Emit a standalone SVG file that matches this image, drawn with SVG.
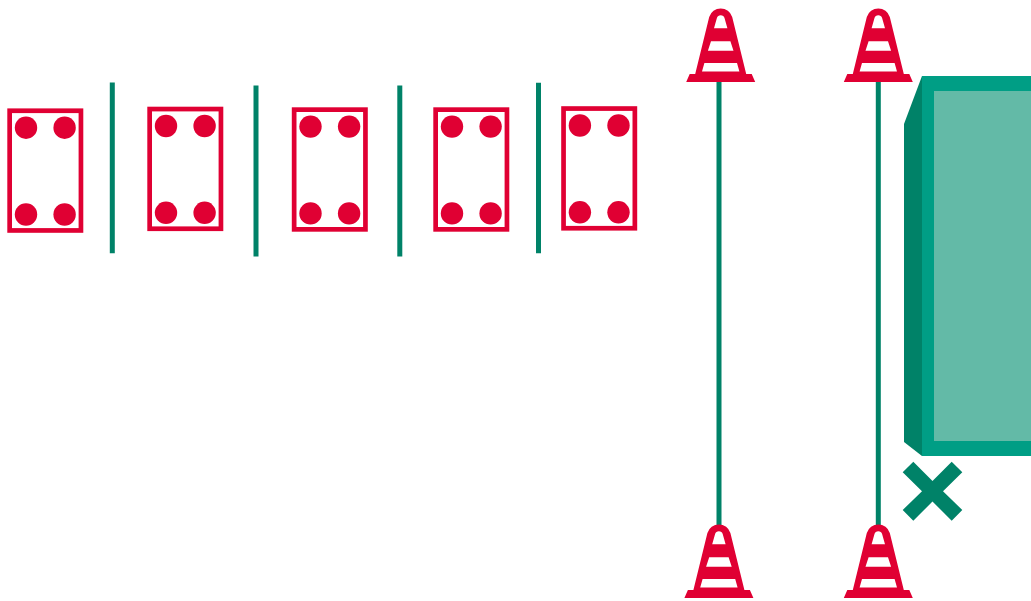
<svg xmlns="http://www.w3.org/2000/svg" width="1031" height="601" viewBox="0 0 1031 601">
<style>
.r{fill:none;stroke:#e00033;stroke-width:4.7}
.d{fill:#e00033}
.p{stroke:#008268;stroke-width:5;fill:none}
</style>
<defs>
<g id="cone">
<path fill="#e00033" fill-rule="evenodd" d="M-34.500 82L-31 74L-25.500 74L-11.500 17A12 12 0 0 1 11.500 17L25.500 74L31 74L34.500 82ZM-6.700 28.300L6.700 28.300L3.800 18A4 4 0 0 0 -3.800 18ZM-9.700 41.300L-12.800 50.700L12.800 50.700L9.700 41.300ZM-16.300 63L-18.700 71.500L18.700 71.500L16.300 63Z"/>
</g>
<g id="bar">
<rect class="r" x="-35.650" y="-59.850" width="71.300" height="119.700"/>
<circle class="d" cx="-19.300" cy="-42.900" r="11.200"/><circle class="d" cx="19.300" cy="-42.900" r="11.200"/>
<circle class="d" cx="-19.300" cy="43.900" r="11.200"/><circle class="d" cx="19.300" cy="43.900" r="11.200"/>
</g>
</defs>
<g id="connectors">
<path class="p" d="M112.300 82.500V253.300M256 85.500V256.500M399.800 85.500V256.500M538.500 82.700V253.300M719 80V530M878.300 80V530"/>
</g>
<g id="bar1"><use href="#bar" x="45.300" y="170.600"/></g>
<g id="bar2"><use href="#bar" x="185.300" y="168.900"/></g>
<g id="bar3"><use href="#bar" x="329.800" y="169.500"/></g>
<g id="bar4"><use href="#bar" x="471.300" y="169.500"/></g>
<g id="bar5"><use href="#bar" x="599.200" y="168.400"/></g>
<g id="cone1"><use href="#cone" x="720.700" y="0"/></g>
<g id="cone2"><use href="#cone" x="878.300" y="0"/></g>
<g id="cone3"><use href="#cone" x="718.900" y="516"/></g>
<g id="cone4"><use href="#cone" x="878.300" y="516"/></g>
<g id="block">
<polygon fill="#008268" points="904,124 922,76 922,456 904,442"/>
<rect x="922" y="76" width="109" height="380" fill="#009e85"/>
<rect x="934" y="91" width="97" height="350" fill="#63baa7"/>
</g>
<g id="cross">
<polygon fill="#008268" points="913.300,461.700 932.500,481 951.700,461.700 962.300,472.300 943,491.200 962.300,510 951.700,520.700 932.500,501.500 913.300,520.700 902.700,510 922,491.200 902.700,472.300"/>
</g>
</svg>
